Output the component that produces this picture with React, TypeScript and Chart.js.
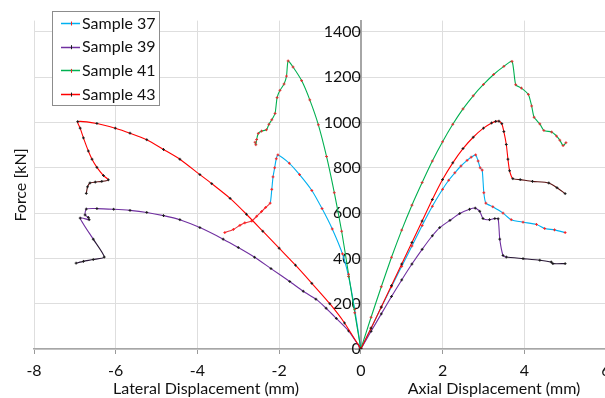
import React, { useEffect, useRef } from 'react';
import { Chart, registerables } from 'chart.js';

Chart.register(...registerables);

// ---------- data ----------
const sampleLabels = ['Sample 37', 'Sample 39', 'Sample 41', 'Sample 43'];

const xTickValues = [-8, -6, -4, -2, 0, 2, 4, 6];
const yTickValues = [0, 200, 400, 600, 800, 1000, 1200, 1400];

const xTitleLateral = 'Lateral Displacement (mm)';
const xTitleAxial = 'Axial Displacement (mm)';
const yTitle = 'Force [kN]';

// Sample 37
const s37LatX = [0, -0.15, -0.3, -0.45, -0.7, -0.95, -1.2, -1.5, -1.75, -2.03, -2.07, -2.11, -2.15, -2.18, -2.22, -2.33, -2.43, -2.55, -2.67, -2.84, -2.96, -3.12, -3.33];
const s37LatF = [0, 175, 320, 420, 530, 620, 700, 770, 820, 857, 840, 800, 760, 705, 644, 625, 607, 586, 565, 557, 546, 528, 514];
const s37AxX = [0, 0.25, 0.5, 0.75, 1.0, 1.25, 1.5, 1.75, 2.0, 2.15, 2.3, 2.45, 2.6, 2.7, 2.81, 2.87, 2.92, 2.97, 3.01, 3.06, 3.23, 3.48, 3.68, 3.97, 4.3, 4.5, 4.74, 5.0];
const s37AxF = [0, 92, 185, 275, 365, 455, 545, 630, 705, 745, 778, 808, 833, 847, 857, 830, 800, 790, 690, 644, 628, 600, 571, 560, 550, 532, 526, 514];

// Sample 39
const s39LatX = [0, -0.3, -0.6, -0.85, -1.1, -1.41, -1.74, -2.2, -2.6, -3.0, -3.37, -3.94, -4.43, -4.83, -5.24, -5.65, -6.05, -6.46, -6.72, -6.75, -6.67, -6.65, -6.87, -6.55, -6.28, -6.55, -6.79, -6.97];
const s39LatF = [0, 80, 135, 180, 220, 255, 298, 355, 405, 448, 485, 536, 571, 589, 603, 612, 617, 620, 618, 592, 581, 571, 578, 485, 406, 395, 387, 379];
const s39AxX = [0, 0.25, 0.5, 0.75, 1.0, 1.25, 1.5, 1.75, 1.93, 2.18, 2.42, 2.66, 2.80, 2.91, 2.99, 3.15, 3.28, 3.36, 3.40, 3.48, 3.56, 3.97, 4.38, 4.66, 4.70, 5.0];
const s39AxF = [0, 78, 155, 232, 305, 375, 440, 500, 536, 568, 598, 617, 622, 608, 576, 571, 576, 575, 485, 413, 406, 399, 392, 384, 377, 377];

// Sample 41
const s41LatX = [0, -0.15, -0.3, -0.47, -0.65, -0.84, -1.04, -1.25, -1.45, -1.66, -1.78, -1.82, -1.88, -1.98, -2.05, -2.10, -2.18, -2.25, -2.31, -2.43, -2.51, -2.55, -2.57, -2.59];
const s41LatF = [0, 160, 330, 520, 690, 850, 990, 1100, 1185, 1245, 1272, 1205, 1170, 1142, 1110, 1040, 1012, 992, 968, 962, 952, 925, 902, 913];
const s41AxX = [0, 0.25, 0.5, 0.75, 1.0, 1.25, 1.5, 1.75, 2.0, 2.25, 2.5, 2.75, 3.0, 3.25, 3.5, 3.70, 3.79, 3.93, 4.10, 4.18, 4.24, 4.38, 4.48, 4.67, 4.79, 4.87, 4.95, 5.02];
const s41AxF = [0, 140, 275, 405, 525, 635, 735, 830, 915, 992, 1060, 1118, 1168, 1212, 1248, 1270, 1167, 1152, 1124, 1073, 1023, 994, 965, 958, 940, 922, 898, 911];

// Sample 43
const s43LatX = [0, -0.4, -0.76, -1.2, -1.6, -2.0, -2.4, -2.8, -3.2, -3.65, -3.94, -4.43, -4.83, -5.24, -5.65, -6.01, -6.46, -6.93, -6.87, -6.79, -6.67, -6.58, -6.46, -6.30, -6.18, -6.34, -6.50, -6.63, -6.69, -6.72];
const s43LatF = [0, 115, 200, 290, 370, 445, 520, 595, 665, 730, 770, 838, 881, 924, 953, 975, 996, 1004, 975, 932, 874, 838, 802, 766, 747, 740, 737, 733, 716, 687];
const s43AxX = [0, 0.25, 0.5, 0.75, 1.0, 1.25, 1.5, 1.75, 2.0, 2.25, 2.5, 2.75, 3.0, 3.2, 3.3, 3.38, 3.45, 3.50, 3.56, 3.60, 3.64, 3.72, 3.9, 4.2, 4.6, 4.8, 5.0];
const s43AxF = [0, 92, 185, 280, 375, 470, 565, 660, 748, 822, 885, 935, 975, 998, 1005, 1006, 995, 960, 903, 838, 787, 752, 748, 740, 733, 712, 686];

// ---------- styles ----------
const lineColors = ['#00B0F0', '#7030A0', '#00B050', '#FF0000'];
const markerColors = ['#FF2020', '#1a1a1a', '#E03030', '#1a1a1a'];
// index from which the (densely-marked) tail looks like the marker colour
const latDenseFrom = [14, 23, null, 24];
const axDenseFrom = [null, 20, null, 21];
const denseColors = ['#E8303A', '#2a1838', '#E03030', '#5a1010'];

const FONT = 'Lato, "Open Sans", sans-serif';
const FONT_SIZE = 16;
const TEXT_COLOR = '#111111';

const series = [
  { lat: [s37LatX, s37LatF], ax: [s37AxX, s37AxF] },
  { lat: [s39LatX, s39LatF], ax: [s39AxX, s39AxF] },
  { lat: [s41LatX, s41LatF], ax: [s41AxX, s41AxF] },
  { lat: [s43LatX, s43LatF], ax: [s43AxX, s43AxF] },
];

function makeDataset(i: number, xs: number[], ys: number[], dense: number | null) {
  return {
    label: sampleLabels[i],
    data: xs.map((x, j) => ({ x, y: ys[j] })),
    showLine: true,
    tension: 0.2,
    borderColor: lineColors[i],
    borderWidth: 1.1,
    pointStyle: 'cross',
    pointRadius: 1.4,
    pointBorderWidth: 1,
    pointBorderColor: markerColors[i],
    pointBackgroundColor: markerColors[i],
    pointHoverRadius: 1.4,
    order: 4 - i,
    segment: {
      borderColor: (ctx: any) => (dense !== null && ctx.p0DataIndex >= dense ? denseColors[i] : undefined),
    },
  };
}

const legendPlugin = {
  id: 'boxLegend',
  afterDraw(chart: any) {
    const ctx = chart.ctx;
    ctx.save();
    ctx.fillStyle = '#ffffff';
    ctx.fillRect(52, 11, 108, 95);
    ctx.strokeStyle = '#8C8C8C';
    ctx.lineWidth = 1;
    ctx.strokeRect(52.5, 11.5, 107, 94);
    ctx.font = `${FONT_SIZE}px ${FONT}`;
    ctx.textBaseline = 'middle';
    ctx.textAlign = 'left';
    sampleLabels.forEach((lab, i) => {
      const y = 23 + i * 23.7;
      ctx.strokeStyle = lineColors[i];
      ctx.lineWidth = 1.5;
      ctx.beginPath();
      ctx.moveTo(61, Math.round(y) + 0.5);
      ctx.lineTo(80, Math.round(y) + 0.5);
      ctx.stroke();
      ctx.strokeStyle = markerColors[i];
      ctx.lineWidth = 1;
      ctx.beginPath();
      ctx.moveTo(71.5, y - 1.5);
      ctx.lineTo(71.5, y + 2.5);
      ctx.stroke();
      ctx.fillStyle = TEXT_COLOR;
      ctx.fillText(lab, 82, y + 0.5);
    });
    ctx.restore();
  },
};

const titlesPlugin = {
  id: 'axisTitles',
  afterDraw(chart: any) {
    const ctx = chart.ctx;
    ctx.save();
    ctx.font = `${FONT_SIZE}px ${FONT}`;
    ctx.fillStyle = TEXT_COLOR;
    ctx.textAlign = 'center';
    ctx.textBaseline = 'middle';
    ctx.fillText(xTitleLateral, 206, 389);
    ctx.fillText(xTitleAxial, 494, 389);
    ctx.translate(21, 185);
    ctx.rotate(-Math.PI / 2);
    ctx.fillText(yTitle, 0, 0);
    ctx.restore();
  },
};

export default function App() {
  const canvasRef = useRef<HTMLCanvasElement | null>(null);

  useEffect(() => {
    if (!canvasRef.current) return;
    const datasets: any[] = [];
    series.forEach((s, i) => {
      datasets.push(makeDataset(i, s.lat[0], s.lat[1], latDenseFrom[i]));
      datasets.push(makeDataset(i, s.ax[0], s.ax[1], axDenseFrom[i]));
    });

    const tickFont = { family: FONT, size: FONT_SIZE };
    const chart = new Chart(canvasRef.current, {
      type: 'scatter',
      data: { datasets },
      options: {
        animation: false,
        responsive: false,
        maintainAspectRatio: false,
        devicePixelRatio: 1,
        layout: { padding: { left: 34, right: 14, top: 13, bottom: 0 } },
        plugins: {
          legend: { display: false },
          tooltip: { enabled: false },
        },
        events: [],
        scales: {
          x: {
            type: 'linear',
            position: 'bottom',
            min: xTickValues[0],
            max: xTickValues[xTickValues.length - 1],
            afterBuildTicks: (scale: any) => {
              scale.ticks = xTickValues.map((v) => ({ value: v }));
            },
            afterFit: (scale: any) => {
              scale.height = 49;
            },
            grid: { color: '#DEDEDE', lineWidth: 1, tickLength: 5, tickColor: '#9A9A9A', tickWidth: 1 },
            border: { color: '#A6A6A6', width: 1.5 },
            ticks: { font: tickFont, color: TEXT_COLOR, padding: 7, maxRotation: 0, autoSkip: false, callback: (v: any) => String(v) },
          },
          y: {
            type: 'linear',
            position: { x: 0 } as any,
            min: 0,
            max: 1450,
            afterBuildTicks: (scale: any) => {
              scale.ticks = yTickValues.map((v) => ({ value: v }));
            },
            afterFit: (scale: any) => {
              scale.width = 0;
            },
            grid: { color: '#DEDEDE', lineWidth: 1, tickLength: 5, tickColor: '#9A9A9A', tickWidth: 1 },
            border: { color: '#A6A6A6', width: 2 },
            ticks: { font: tickFont, color: TEXT_COLOR, padding: 11, callback: (v: any) => String(v) },
          },
        },
      },
      plugins: [titlesPlugin, legendPlugin],
    } as any);

    return () => chart.destroy();
  }, []);

  return (
    <div style={{ position: 'absolute', left: 0, top: 0, width: 605, height: 398, overflow: 'hidden', background: '#ffffff' }}>
      <canvas ref={canvasRef} width={620} height={398} style={{ display: 'block', width: 620, height: 398 }} />
    </div>
  );
}
